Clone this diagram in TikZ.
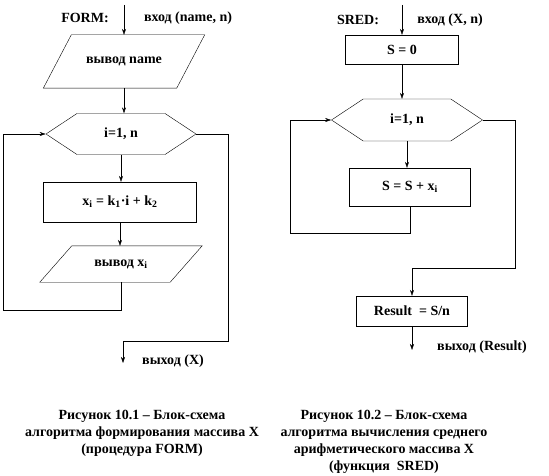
\documentclass[tikz,border=0pt]{standalone}
\usepackage{fontspec}
\setmainfont{Liberation Serif}
\usetikzlibrary{positioning, arrows.meta, shapes.geometric, shapes.symbols}

\begin{document}
\begin{tikzpicture}[x=1pt, y=-1pt, >={Stealth[length=6pt, width=4pt]},
    every node/.style={font=\fontsize{14}{17}\selectfont\bfseries},
    box/.style={draw, thin, rectangle, inner sep=2pt},
    io/.style={rectangle, inner sep=2pt},
    loophex/.style={draw, thin, signal, signal to=east and west,
                    signal pointer angle=67, inner sep=2pt},
    caption/.style={align=center}]
    \useasboundingbox (0,0) rectangle (549,476);

    % procedure FORM
    \coordinate (inL) at (124,5);
    \node (formlbl) at (85,18) {FORM:};
    \node (inLlbl) at (188,18) {вход (name, n)};
    \node[io, minimum width=133pt, minimum height=53pt] (outname) at (124,61.5) {вывод name};
    \draw[thin] ([xshift=14pt]outname.north west) -- ([xshift=14pt]outname.north east)
        -- ([xshift=-14pt]outname.south east) -- ([xshift=-14pt]outname.south west) -- cycle;
    \node[loophex, minimum width=150pt, minimum height=41pt] (hexL) at (121,134) {i=1, n};
    \node[box, minimum width=153pt, minimum height=40pt] (calcx) at (120,202)
        {x\textsubscript{i} = k\textsubscript{1}·i + k\textsubscript{2}};
    \node[io, minimum width=130pt, minimum height=36pt] (outx) at (121,264) {вывод x\textsubscript{i}};
    \draw[thin] ([xshift=16pt]outx.north west) -- ([xshift=16pt]outx.north east)
        -- ([xshift=-16pt]outx.south east) -- ([xshift=-16pt]outx.south west) -- cycle;
    \coordinate (backL) at (3,310);
    \coordinate (exitL) at (228,341);
    \coordinate (endL) at (123,363);
    \node (outLlbl) at (173,361) {выход (X)};

    \draw[->] (inL) -- (outname.north -| inL);
    \draw[->] (outname.south) -- (outname.south |- hexL.north);
    \draw[->] (hexL.south) -- (hexL.south |- calcx.north);
    \draw[->] (calcx.south) -- (calcx.south |- outx.north);
    \draw[->] (outx.south) |- (backL) |- (hexL.west);
    \draw[->] (hexL.east) -| (exitL) -| (endL);

    % function SRED
    \coordinate (inR) at (402,5);
    \node (sredlbl) at (358,20) {SRED:};
    \node (inRlbl) at (450,20) {вход (X, n)};
    \node[box, minimum width=113pt, minimum height=29pt] (szero) at (402,49.5) {S = 0};
    \node[loophex, minimum width=151pt, minimum height=42pt] (hexR) at (407,120) {i=1, n};
    \node[box, minimum width=121pt, minimum height=38pt] (sum) at (410,187)
        {S = S + x\textsubscript{i}};
    \node[box, minimum width=111pt, minimum height=30pt] (res) at (412,311) {Result\ \ = S/n};
    \coordinate (backR) at (290,233);
    \coordinate (exitR) at (515,268);
    \coordinate (endR) at (412,350);
    \node (outRlbl) at (482,347) {выход (Result)};

    \draw[->] (inR) -- (szero.north -| inR);
    \draw[->] (szero.south) -- (szero.south |- hexR.north);
    \draw[->] (hexR.south) -- (hexR.south |- sum.north);
    \draw[->] (sum.south) |- (backR) |- (hexR.west);
    \draw[->] (hexR.east) -| (exitR) -| (res.north);
    \draw[->] (res.south) -- (endR);

    % captions
    \node[caption] (capL) at (142,433)
        {Рисунок 10.1 – Блок-схема\\алгоритма формирования массива X\\(процедура FORM)};
    \node[caption] (capR) at (384,442)
        {Рисунок 10.2 – Блок-схема\\алгоритма вычисления среднего\\арифметического массива X\\(функция\ \ SRED)};
\end{tikzpicture}
\end{document}
